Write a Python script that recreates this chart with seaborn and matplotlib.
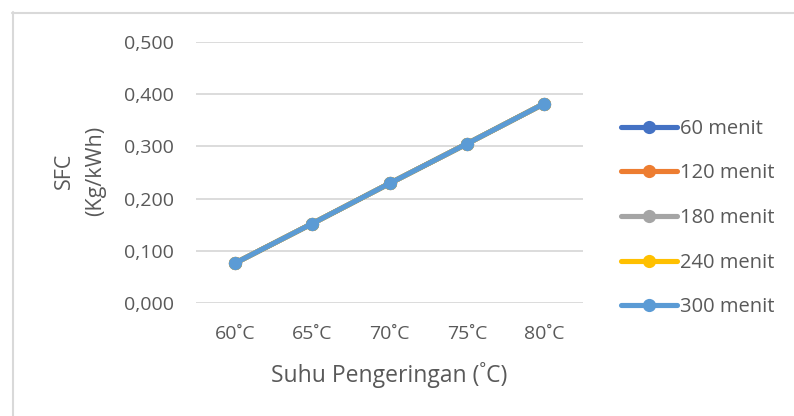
import matplotlib
matplotlib.use("Agg")
import matplotlib.pyplot as plt
from matplotlib.lines import Line2D
import seaborn as sns
import pandas as pd

# Drying temperatures and SFC per drying duration
suhu = ["60˚C", "65˚C", "70˚C", "75˚C", "80˚C"]
durasi = ["60 menit", "120 menit", "180 menit", "240 menit", "300 menit"]
sfc_60 = [0.076, 0.152, 0.229, 0.305, 0.382]
sfc_120 = [0.076, 0.152, 0.229, 0.305, 0.382]
sfc_180 = [0.076, 0.152, 0.229, 0.305, 0.382]
sfc_240 = [0.076, 0.152, 0.229, 0.305, 0.382]
sfc_300 = [0.076, 0.152, 0.229, 0.305, 0.382]
y_ticks = [0.0, 0.1, 0.2, 0.3, 0.4, 0.5]
y_ticklabels = ["0,000", "0,100", "0,200", "0,300", "0,400", "0,500"]

colors = ["#4472C4", "#ED7D31", "#A5A5A5", "#FFC000", "#5B9BD5"]

series = [sfc_60, sfc_120, sfc_180, sfc_240, sfc_300]
rows = []
for name, vals in zip(durasi, series):
    for i, (s, v) in enumerate(zip(suhu, vals)):
        rows.append({"pos": i, "suhu": s, "durasi": name, "sfc": v})
df = pd.DataFrame(rows)

sns.set_theme(style="white")
plt.rcParams["font.family"] = ["Open Sans", "DejaVu Sans"]
text_color = "#595959"

W, H = 794, 416
fig = plt.figure(figsize=(W / 100, H / 100), dpi=100)
ax = fig.add_axes([196 / W, 1 - 303 / H, (583 - 196) / W, (303 - 42) / H])

sns.lineplot(data=df, x="pos", y="sfc", hue="durasi", hue_order=durasi,
             palette=colors, marker="o", markersize=9.5, markeredgewidth=0,
             linewidth=3.7, legend=False, ax=ax)

ax.set_xlim(-0.5, 4.5)
ax.set_ylim(0, 0.5)
ax.set_xticks(range(len(suhu)))
ax.set_xticklabels(suhu)
ax.set_yticks(y_ticks)
ax.set_yticklabels(y_ticklabels)
ax.tick_params(axis="both", length=0, labelsize=14, labelcolor=text_color)
ax.tick_params(axis="x", pad=16)
ax.tick_params(axis="y", pad=16)
ax.grid(axis="y", color="#D9D9D9", linewidth=1.3)
ax.grid(axis="x", visible=False)
for sp in ax.spines.values():
    sp.set_visible(False)
ax.set_axisbelow(True)
ax.set_xlabel("")
ax.set_ylabel("")

fig.text(389 / W, 1 - 375 / H, "Suhu Pengeringan (˚C)", fontsize=16.5,
         color=text_color, ha="center", va="center")
fig.text(80 / W, 1 - 171 / H, "SFC\n(Kg/kWh)", fontsize=15.5, color=text_color,
         ha="center", va="center", rotation=90, linespacing=1.6,
         multialignment="center")

handles = [Line2D([0], [0], color=c, linewidth=3.7, marker="o", markersize=9.5,
                  markeredgewidth=0) for c in colors]
fig.legend(handles, durasi, loc="center left", bbox_to_anchor=(621 / W, 1 - 218 / H),
           frameon=False, fontsize=14.5, labelcolor=text_color,
           handlelength=2.8, handletextpad=0.15, labelspacing=1.22,
           borderaxespad=0, borderpad=0)

# Outer frame lines along the top and left edges
fig.add_artist(Line2D([12 / W, 1.0], [1 - 12.5 / H, 1 - 12.5 / H],
                      color="#D9D9D9", linewidth=1.5, transform=fig.transFigure))
fig.add_artist(Line2D([12.5 / W, 12.5 / W], [0.0, 1 - 12 / H],
                      color="#D9D9D9", linewidth=1.5, transform=fig.transFigure))

fig.savefig("out.png", dpi=100)
